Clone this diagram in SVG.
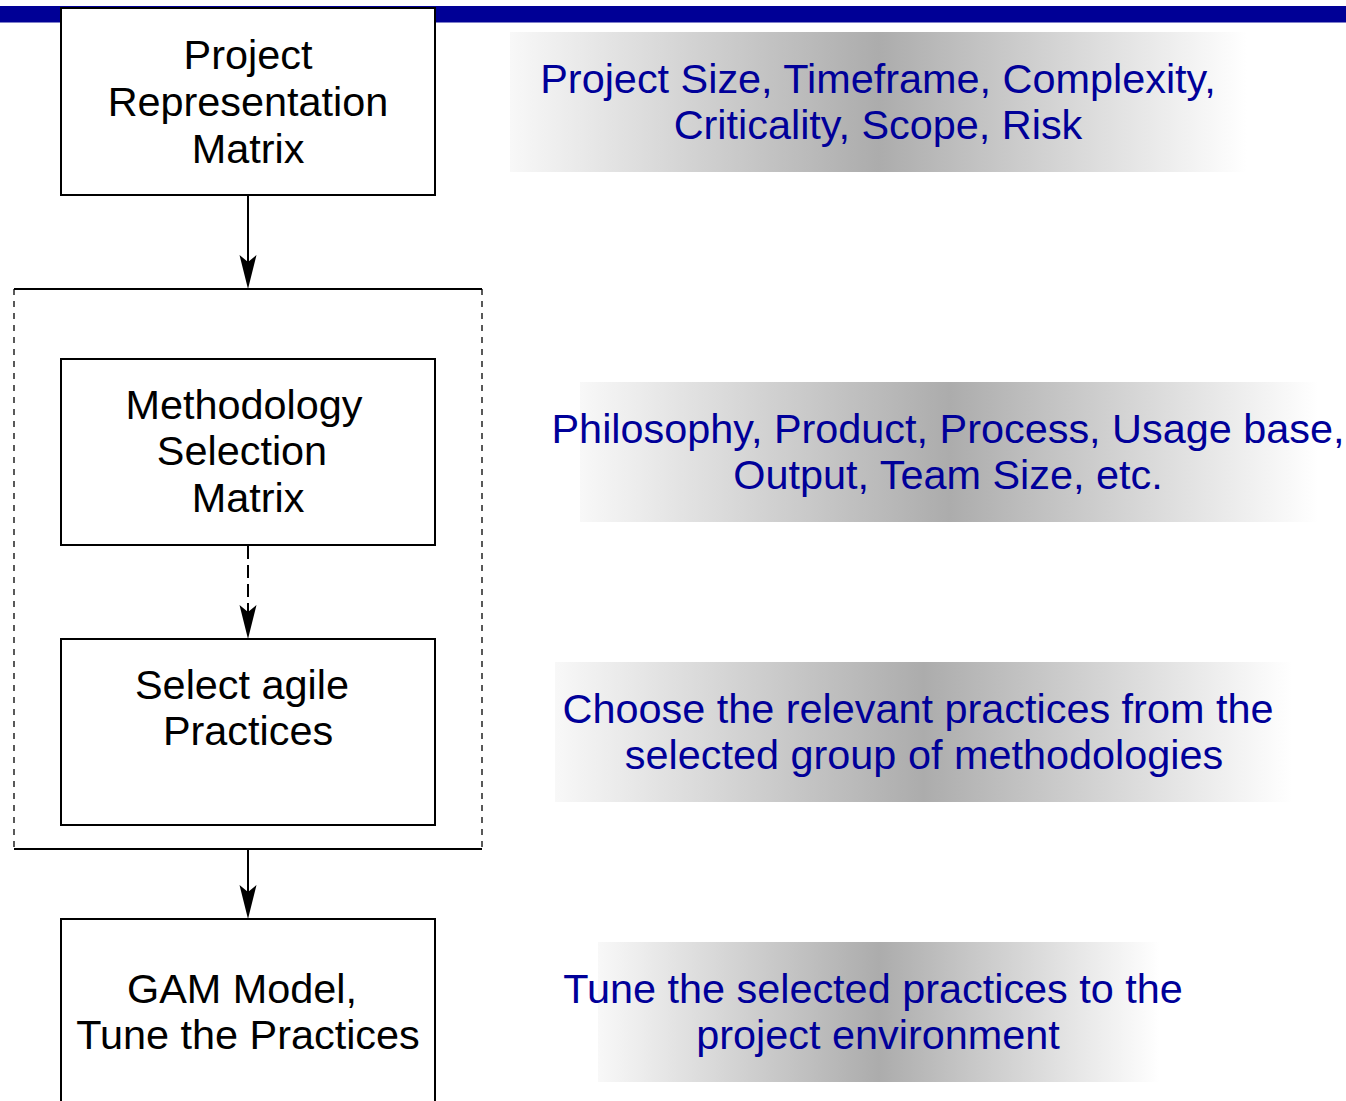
<svg xmlns="http://www.w3.org/2000/svg" width="1346" height="1101" viewBox="0 0 1346 1101">
  <defs>
    <style>
      .box { fill: #ffffff; stroke: #000000; stroke-width: 2; }
      .lbl { font-family: "Liberation Sans", Arial, sans-serif; font-size: 41.4px; fill: #000000; text-anchor: middle; }
      .note { font-family: "Liberation Sans", Arial, sans-serif; font-size: 41.4px; fill: #000099; text-anchor: middle; }
      .conn { stroke: #000000; stroke-width: 2; fill: none; }
      .dash { stroke-dasharray: 13 6; }
      .side { stroke: #000000; stroke-width: 1.3; fill: none; stroke-dasharray: 6 6; }
    </style>
    <linearGradient id="g" x1="0" y1="0" x2="1" y2="0">
      <stop offset="0" stop-color="#f8f8f8"/>
      <stop offset="0.5" stop-color="#acacac"/>
      <stop offset="1" stop-color="#ffffff"/>
    </linearGradient>
    <marker id="arr" markerUnits="userSpaceOnUse" markerWidth="34" markerHeight="18" viewBox="0 0 34 18" refX="14" refY="9" orient="auto">
      <path d="M0,0.5 L34,9 L0,17.5 L7,9 z" fill="#000000" stroke="none"/>
    </marker>
  </defs>

  <rect id="topbar" x="0" y="6" width="1346" height="16.5" fill="#000096"/>

  <g id="notes">
    <g id="note1">
      <rect x="510" y="32" width="737" height="140" fill="url(#g)"/>
      <text class="note" x="878" y="93">Project Size, Timeframe, Complexity,</text>
      <text class="note" x="878" y="139">Criticality, Scope, Risk</text>
    </g>
    <g id="note2">
      <rect x="580" y="382" width="738" height="140" fill="url(#g)"/>
      <text class="note" x="948" y="443">Philosophy, Product, Process, Usage base,</text>
      <text class="note" x="948" y="489">Output, Team Size, etc.</text>
    </g>
    <g id="note3">
      <rect x="555" y="662" width="737" height="140" fill="url(#g)"/>
      <text class="note" x="918" y="723">Choose the relevant practices from the</text>
      <text class="note" x="924" y="769">selected group of methodologies</text>
    </g>
    <g id="note4">
      <rect x="598" y="942" width="562" height="140" fill="url(#g)"/>
      <text class="note" x="873" y="1003">Tune the selected practices to the</text>
      <text class="note" x="878" y="1049">project environment</text>
    </g>
  </g>

  <g id="container">
    <line class="conn" x1="14" y1="289" x2="482" y2="289"/>
    <line class="conn" x1="14" y1="849" x2="482" y2="849"/>
    <line class="side" x1="14" y1="289" x2="14" y2="849"/>
    <line class="side" x1="482" y1="289" x2="482" y2="849"/>
  </g>

  <g id="connectors">
    <line class="conn" x1="248" y1="196" x2="248" y2="269" marker-end="url(#arr)"/>
    <line class="conn dash" x1="248" y1="546" x2="248" y2="619" marker-end="url(#arr)"/>
    <line class="conn" x1="248" y1="850" x2="248" y2="899" marker-end="url(#arr)"/>
  </g>

  <g id="node-prm">
    <rect class="box" x="61" y="8" width="374" height="187"/>
    <text class="lbl" x="248" y="69">Project</text>
    <text class="lbl" x="248" y="116">Representation</text>
    <text class="lbl" x="248" y="163">Matrix</text>
  </g>
  <g id="node-msm">
    <rect class="box" x="61" y="359" width="374" height="186"/>
    <text class="lbl" x="244" y="419">Methodology</text>
    <text class="lbl" x="242" y="465">Selection</text>
    <text class="lbl" x="248" y="512">Matrix</text>
  </g>
  <g id="node-sap">
    <rect class="box" x="61" y="639" width="374" height="186"/>
    <text class="lbl" x="242" y="699">Select agile</text>
    <text class="lbl" x="248" y="745">Practices</text>
  </g>
  <g id="node-gam">
    <rect class="box" x="61" y="919" width="374" height="200"/>
    <text class="lbl" x="242" y="1003">GAM Model,</text>
    <text class="lbl" x="248" y="1049">Tune the Practices</text>
  </g>
</svg>
